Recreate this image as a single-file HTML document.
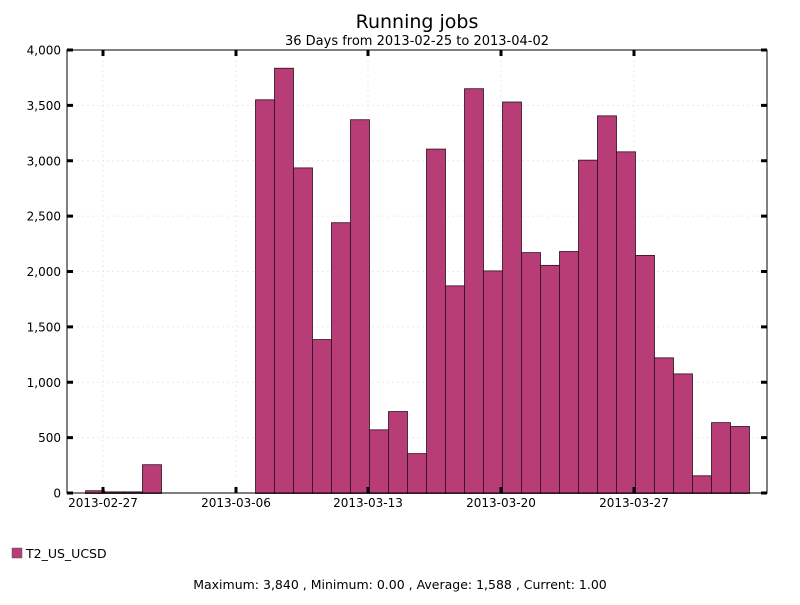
<!DOCTYPE html>
<html><head><meta charset="utf-8"><style>
body{margin:0;background:#fff;width:800px;height:600px;overflow:hidden}
svg{font-family:"DejaVu Sans","Liberation Sans",sans-serif}
</style></head><body>
<svg id="s" width="800" height="600" xmlns="http://www.w3.org/2000/svg">
<rect width="800" height="600" fill="#fff"/>
<text x="417" y="28" font-size="19" text-anchor="middle">Running jobs</text>
<text x="417" y="45" font-size="13" text-anchor="middle">36 Days from 2013-02-25 to 2013-04-02</text>
<g id="grid"></g>
<g id="bars"></g>
<rect x="67" y="50" width="700" height="443" fill="none" stroke="#000" stroke-width="1"/>
<g id="ticks"></g>
<rect x="12" y="548" width="10" height="10" fill="#b83c76" stroke="#555" stroke-width="0.5"/>
<text x="26" y="558" font-size="12.5">T2_US_UCSD</text>
<text x="400" y="589" font-size="12.5" text-anchor="middle">Maximum: 3,840 , Minimum: 0.00 , Average: 1,588 , Current: 1.00</text>
</svg>
<script>
var ns="http://www.w3.org/2000/svg";
function el(p,t,a,txt){var e=document.createElementNS(ns,t);for(var k in a)e.setAttribute(k,a[k]);if(txt)e.textContent=txt;document.getElementById(p).appendChild(e);}
var y0=493,sc=443/4000;
for(var v=0;v<=4000;v+=500){var y=y0-v*sc;
 if(v>0&&v<4000)el('grid','line',{x1:67,x2:767,y1:y,y2:y,stroke:'#eaeaea','stroke-dasharray':'2,3'});
 el('ticks','line',{x1:67,x2:73,y1:y,y2:y,stroke:'#000','stroke-width':3});
 el('ticks','line',{x1:761,x2:767,y1:y,y2:y,stroke:'#000','stroke-width':3});
 el('ticks','text',{x:61,y:y+4.5,'font-size':12,'text-anchor':'end'},v.toLocaleString('en-US'));}
var xt=[[103,'2013-02-27'],[236,'2013-03-06'],[368,'2013-03-13'],[501,'2013-03-20'],[634,'2013-03-27']];
xt.forEach(function(t){
 el('grid','line',{x1:t[0],x2:t[0],y1:50,y2:493,stroke:'#eaeaea','stroke-dasharray':'2,3'});
 el('ticks','line',{x1:t[0],x2:t[0],y1:50,y2:56,stroke:'#000','stroke-width':3});
 el('ticks','line',{x1:t[0],x2:t[0],y1:487,y2:493,stroke:'#000','stroke-width':3});
 el('ticks','text',{x:t[0],y:507,'font-size':12,'text-anchor':'middle'},t[1]);});
var d=[[85,25],[104,15],[123,15],[142,260],[255,3555],[274,3840],[293,2940],[312,1390],[331,2445],[350,3375],[369,575],[388,740],[407,360],[426,3110],[445,1875],[464,3655],[483,2010],[502,3535],[521,2175],[540,2060],[559,2185],[578,3010],[597,3410],[616,3085],[635,2150],[654,1225],[673,1080],[692,160],[711,640],[730,605]];
d.forEach(function(b){var h=b[1]*sc;el('bars','rect',{x:b[0]+0.5,y:y0-h+0.5,width:19,height:h,fill:'#b83c76',stroke:'#2a1020','stroke-width':0.8});});
</script>
</body></html>
